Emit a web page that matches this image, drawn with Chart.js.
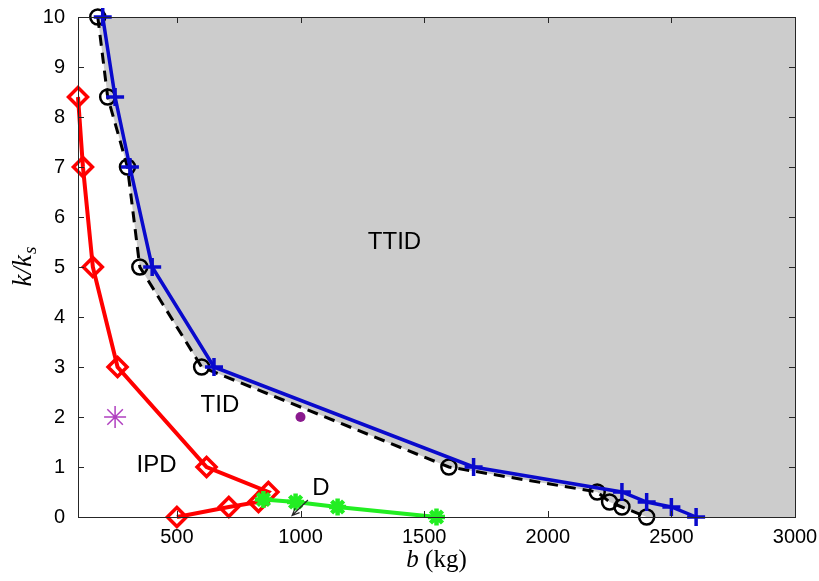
<!DOCTYPE html>
<html>
<head>
    <title>k/ks vs b</title>
    <script src="https://cdn.jsdelivr.net/npm/chart.js"></script>
    <style>
        body {
            margin: 0;
            background: white;
        }
        .wrap {
            width: 819px;
            height: 581px;
        }
    </style>
</head>
<body>
    <div class="wrap"><canvas id="phaseChart"></canvas></div>

    <script>
        // data
        const dashedB = [180, 220, 300, 350, 600, 1600, 2200, 2250, 2300, 2400];
        const dashedK = [10, 8.4, 7, 5, 3, 1, 0.5, 0.3, 0.2, 0];
        const blueB = [200, 250, 310, 400, 650, 1700, 2300, 2400, 2500, 2600];
        const blueK = [10, 8.4, 7, 5, 3, 1, 0.5, 0.3, 0.2, 0];
        const redB = [100, 120, 160, 260, 620, 870, 830, 710, 500];
        const redK = [8.4, 7, 5, 3, 1, 0.5, 0.3, 0.2, 0];
        const greenB = [850, 980, 1150, 1550];
        const greenK = [0.35, 0.3, 0.2, 0];
        const starPoint = [250, 2];
        const dotPoint = [1000, 2];
        const xTicks = [500, 1000, 1500, 2000, 2500, 3000];
        const yTicks = [0, 1, 2, 3, 4, 5, 6, 7, 8, 9, 10];
        const xMin = 100, xMax = 3000, yMin = 0, yMax = 10;
        const regionNames = ['TTID', 'TID', 'IPD', 'D'];

        const pts = (xs, ys) => xs.map((x, i) => ({ x: x, y: ys[i] }));

        // label placement (data coords)
        const labelPos = [[1380, 5.5], [674, 2.23], [418, 1.04], [1083, 0.58]];
        const arrowFrom = [1030, 0.34], arrowTo = [966, 0.03];

        const sansFont = '"Liberation Sans", Arial, sans-serif';
        const serifFont = '"Liberation Serif", "DejaVu Serif", serif';

        const boxPlugin = {
            id: 'box',
            afterDraw(chart) {
                const { ctx, chartArea: a, scales } = chart;
                const xs = scales.x, ys = scales.y;
                ctx.save();
                ctx.strokeStyle = '#262626';
                ctx.lineWidth = 1;
                ctx.strokeRect(a.left + 0.5, a.top + 0.5, a.right - a.left, a.bottom - a.top);
                ctx.beginPath();
                xTicks.forEach(v => {
                    const px = Math.round(xs.getPixelForValue(v)) + 0.5;
                    ctx.moveTo(px, a.bottom); ctx.lineTo(px, a.bottom - 6);
                    ctx.moveTo(px, a.top); ctx.lineTo(px, a.top + 6);
                });
                yTicks.forEach(v => {
                    const py = Math.round(ys.getPixelForValue(v)) + 0.5;
                    ctx.moveTo(a.left, py); ctx.lineTo(a.left + 6, py);
                    ctx.moveTo(a.right, py); ctx.lineTo(a.right - 6, py);
                });
                ctx.stroke();

                // region labels
                ctx.fillStyle = '#000';
                ctx.font = '24px ' + sansFont;
                ctx.textAlign = 'center';
                ctx.textBaseline = 'middle';
                regionNames.forEach((t, i) => {
                    ctx.fillText(t, xs.getPixelForValue(labelPos[i][0]), ys.getPixelForValue(labelPos[i][1]));
                });

                // arrow for D
                const x1 = xs.getPixelForValue(arrowFrom[0]), y1 = ys.getPixelForValue(arrowFrom[1]);
                const x2 = xs.getPixelForValue(arrowTo[0]), y2 = ys.getPixelForValue(arrowTo[1]);
                const ang = Math.atan2(y2 - y1, x2 - x1);
                ctx.lineWidth = 1.2;
                ctx.beginPath();
                ctx.moveTo(x1, y1); ctx.lineTo(x2, y2);
                ctx.moveTo(x2 - 8 * Math.cos(ang - 0.4), y2 - 8 * Math.sin(ang - 0.4));
                ctx.lineTo(x2, y2);
                ctx.lineTo(x2 - 8 * Math.cos(ang + 0.4), y2 - 8 * Math.sin(ang + 0.4));
                ctx.stroke();

                // axis titles
                ctx.textBaseline = 'alphabetic';
                const midX = (a.left + a.right) / 2;
                ctx.font = 'italic 25px ' + serifFont;
                const bW = ctx.measureText('b').width;
                ctx.font = '25px ' + serifFont;
                const kgW = ctx.measureText(' (kg)').width;
                let sx = midX - (bW + kgW) / 2;
                ctx.textAlign = 'left';
                ctx.font = 'italic 25px ' + serifFont;
                ctx.fillText('b', sx, 567);
                ctx.font = '25px ' + serifFont;
                ctx.fillText(' (kg)', sx + bW, 567);

                ctx.translate(31, (a.top + a.bottom) / 2);
                ctx.rotate(-Math.PI / 2);
                ctx.font = 'italic 27px ' + serifFont;
                const mainW = ctx.measureText('k/k').width;
                ctx.font = 'italic 19px ' + serifFont;
                const subW = ctx.measureText('s').width;
                const start = -(mainW + subW) / 2;
                ctx.font = 'italic 27px ' + serifFont;
                ctx.fillText('k/k', start, 0);
                ctx.font = 'italic 19px ' + serifFont;
                ctx.fillText('s', start + mainW + 1, 5);
                ctx.restore();
            }
        };

        const fillPts = pts(dashedB, dashedK).concat([{ x: xMax, y: yMin }]);

        const chart = new Chart(document.getElementById('phaseChart'), {
            type: 'scatter',
            data: {
                datasets: [
                    {
                        label: 'region',
                        data: fillPts,
                        showLine: true,
                        borderWidth: 0,
                        borderColor: 'rgba(0,0,0,0)',
                        backgroundColor: '#cccccc',
                        pointRadius: 0,
                        fill: 'end',
                        order: 10
                    },
                    {
                        label: 'dashed',
                        data: pts(dashedB, dashedK),
                        showLine: true,
                        clip: false,
                        borderColor: '#000',
                        borderWidth: 3,
                        borderDash: [11, 7],
                        pointStyle: 'circle',
                        pointRadius: 7.5,
                        pointBorderWidth: 2.5,
                        pointBorderColor: '#000',
                        pointBackgroundColor: 'rgba(0,0,0,0)',
                        order: 3
                    },
                    {
                        label: 'blue',
                        data: pts(blueB, blueK),
                        showLine: true,
                        clip: false,
                        borderColor: '#0a0acc',
                        borderWidth: 3.5,
                        pointStyle: 'cross',
                        pointRadius: 9,
                        pointBorderWidth: 3.5,
                        pointBorderColor: '#0a0acc',
                        order: 2
                    },
                    {
                        label: 'red',
                        data: pts(redB, redK),
                        showLine: true,
                        clip: false,
                        borderColor: '#ff0000',
                        borderWidth: 4,
                        pointStyle: 'rectRot',
                        pointRadius: 9.5,
                        pointBorderWidth: 3.5,
                        pointBorderColor: '#ff0000',
                        pointBackgroundColor: 'rgba(0,0,0,0)',
                        order: 4
                    },
                    {
                        label: 'green',
                        data: pts(greenB, greenK),
                        showLine: true,
                        clip: false,
                        borderColor: '#22ee22',
                        borderWidth: 4,
                        pointStyle: 'star',
                        pointRadius: 8.5,
                        pointBorderWidth: 4.5,
                        pointBorderColor: '#22ee22',
                        order: 1
                    },
                    {
                        label: 'asterisk',
                        data: [{ x: starPoint[0], y: starPoint[1] }],
                        pointStyle: 'star',
                        pointRadius: 11,
                        pointBorderWidth: 1.5,
                        pointBorderColor: '#b040c0',
                        order: 0
                    },
                    {
                        label: 'dot',
                        data: [{ x: dotPoint[0], y: dotPoint[1] }],
                        pointStyle: 'circle',
                        pointRadius: 5,
                        pointBorderWidth: 0,
                        pointBackgroundColor: '#8a1a8e',
                        order: 0
                    }
                ]
            },
            options: {
                responsive: true,
                maintainAspectRatio: false,
                animation: false,
                layout: { padding: { left: 0, right: 24, top: 17, bottom: 0 } },
                plugins: {
                    legend: { display: false },
                    tooltip: { enabled: false }
                },
                scales: {
                    x: {
                        type: 'linear',
                        min: xMin,
                        max: xMax,
                        afterBuildTicks: s => { s.ticks = xTicks.map(v => ({ value: v })); },
                        afterFit: s => { s.height = 64; },
                        grid: { display: false },
                        border: { display: false },
                        ticks: {
                            color: '#000',
                            padding: 0,
                            maxRotation: 0,
                            callback: v => String(v),
                            font: { family: sansFont, size: 20 }
                        }
                    },
                    y: {
                        type: 'linear',
                        min: yMin,
                        max: yMax,
                        afterBuildTicks: s => { s.ticks = yTicks.map(v => ({ value: v })); },
                        afterFit: s => { s.width = 78; },
                        grid: { display: false },
                        border: { display: false },
                        ticks: {
                            color: '#000',
                            padding: 5,
                            callback: v => String(v),
                            font: { family: sansFont, size: 20 }
                        }
                    }
                }
            },
            plugins: [boxPlugin]
        });
    </script>
</body>
</html>
